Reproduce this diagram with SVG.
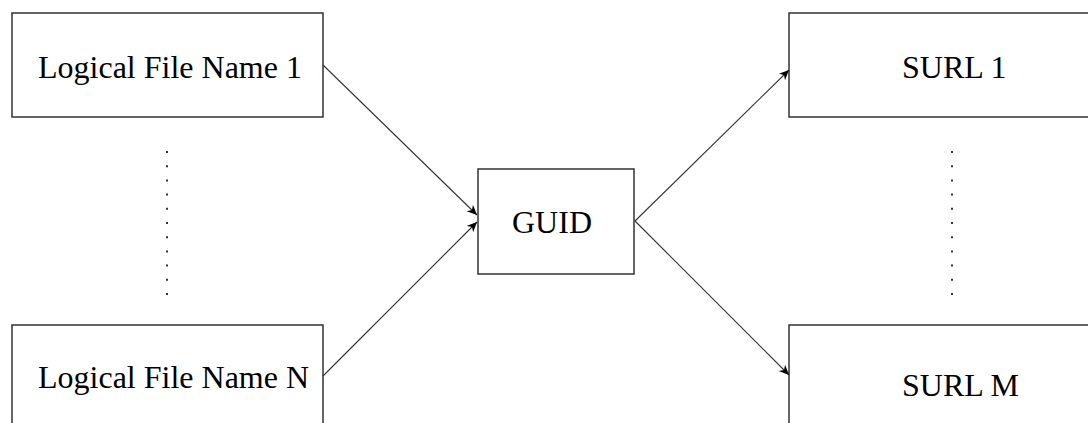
<svg xmlns="http://www.w3.org/2000/svg" width="1088" height="423" viewBox="0 0 1088 423">
<style>
.box{fill:#fff;stroke:#333;stroke-width:1.5}
.lbl{font-family:"Liberation Serif",serif;font-size:32px;fill:#000}
.conn{stroke:#333;stroke-width:1.1;fill:none;marker-end:url(#ah)}
.dots{stroke:#333;stroke-width:2;stroke-dasharray:2 12.2;fill:none}
</style>
<defs>
<marker id="ah" markerWidth="12" markerHeight="10" refX="10" refY="4.5" orient="auto" markerUnits="userSpaceOnUse">
<path d="M0,0 L10,4.5 L0,9 L3,4.5 Z" fill="#000"/>
</marker>
</defs>
<rect width="1088" height="423" fill="#fff"/>
<g id="lfn1"><rect class="box" x="12" y="13" width="311" height="104"/><text class="lbl" x="38" y="78">Logical File Name 1</text></g>
<g id="lfnN"><rect class="box" x="12" y="325" width="311" height="110"/><text class="lbl" x="38" y="388">Logical File Name N</text></g>
<g id="guid"><rect class="box" x="478" y="169" width="156" height="105"/><text class="lbl" x="512" y="233">GUID</text></g>
<g id="surl1"><rect class="box" x="789" y="13" width="310" height="104"/><text class="lbl" x="902" y="78">SURL 1</text></g>
<g id="surlM"><rect class="box" x="789" y="325" width="310" height="110"/><text class="lbl" x="902" y="396">SURL M</text></g>
<g id="dots"><line class="dots" x1="167" y1="151" x2="167" y2="296"/><line class="dots" x1="952" y1="151" x2="952" y2="296"/></g>
<g id="connectors">
<line class="conn" x1="323" y1="65" x2="477" y2="215"/>
<line class="conn" x1="323" y1="376" x2="477" y2="222"/>
<line class="conn" x1="635" y1="221" x2="789" y2="70"/>
<line class="conn" x1="635" y1="221" x2="789" y2="375"/>
</g>
</svg>
